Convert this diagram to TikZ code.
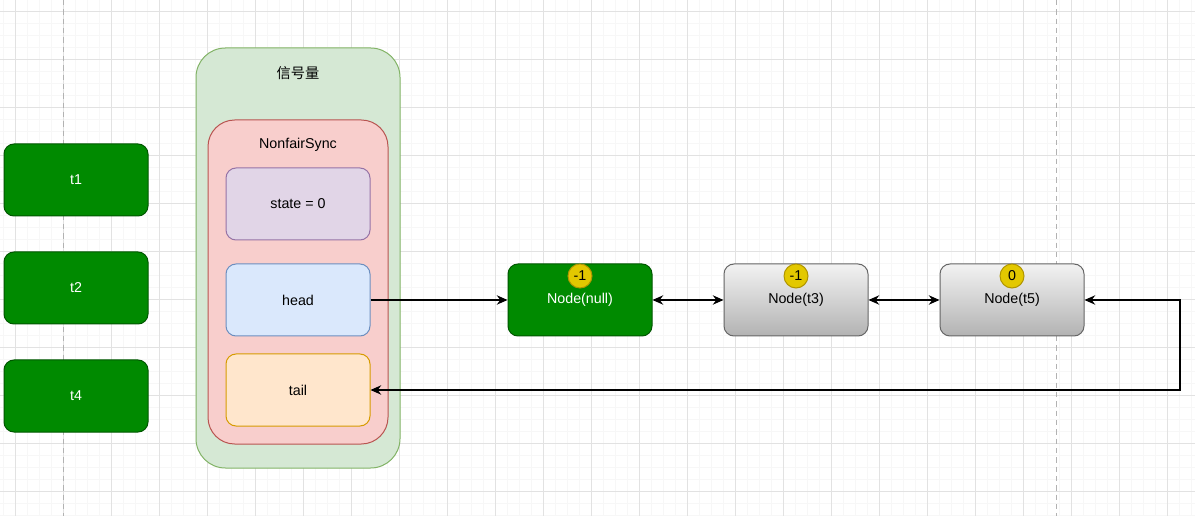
\documentclass[tikz,border=0pt]{standalone}
\usepackage{fontspec}
\setmainfont{Liberation Sans}
\newfontfamily\cjk{Noto Sans CJK SC}
\usetikzlibrary{arrows.meta}

\definecolor{gridmin}{HTML}{F7F7F7}
\definecolor{gridmaj}{HTML}{E2E2E2}
\definecolor{thgreen}{HTML}{008A00}
\definecolor{thgreend}{HTML}{005700}
\definecolor{semfill}{HTML}{D5E8D4}
\definecolor{semdraw}{HTML}{82B366}
\definecolor{syncfill}{HTML}{F8CECC}
\definecolor{syncdraw}{HTML}{B85450}
\definecolor{statefill}{HTML}{E1D5E7}
\definecolor{statedraw}{HTML}{9673A6}
\definecolor{headfill}{HTML}{DAE8FC}
\definecolor{headdraw}{HTML}{6C8EBF}
\definecolor{tailfill}{HTML}{FFE6CC}
\definecolor{taildraw}{HTML}{D79B00}
\definecolor{badgefill}{HTML}{E3C800}
\definecolor{badgedraw}{HTML}{B09500}

\begin{document}
\begin{tikzpicture}[
    x=0.75pt, y=-0.75pt,
    font=\fontsize{10.7}{12}\selectfont,
    box/.style={rectangle, rounded corners=7.5pt, line width=0.75pt,
                minimum width=108pt, minimum height=54pt, inner sep=0pt},
    thr/.style={box, fill=thgreen, draw=thgreend, text=white},
    qnode/.style={box, draw=black!60, top color=black!5, bottom color=black!30},
    badge/.style={circle, fill=badgefill, draw=badgedraw, line width=0.75pt,
                  minimum size=18pt, inner sep=0pt, anchor=north},
    link/.style={line width=1.1pt, -{Stealth[length=8pt, width=7pt]}},
    dlink/.style={line width=1.1pt, {Stealth[length=8pt, width=7pt]}-{Stealth[length=8pt, width=7pt]}},
  ]

  \useasboundingbox (0,0) rectangle (1195,516);
  \fill[white] (0,0) rectangle (1195,516);

  % ---- griglia di sfondo ----------------------------------------------------
  \foreach \gx in {0,...,99} \draw[gridmin, line width=0.6pt] (3.5+12*\gx,0) -- (3.5+12*\gx,516);
  \foreach \gy in {0,...,43} \draw[gridmin, line width=0.6pt] (0,-0.5+12*\gy) -- (1195,-0.5+12*\gy);
  \foreach \gx in {0,...,24} \draw[gridmaj, line width=0.6pt] (15.5+48*\gx,0) -- (15.5+48*\gx,516);
  \foreach \gy in {0,...,10} \draw[gridmaj, line width=0.6pt] (0,11.5+48*\gy) -- (1195,11.5+48*\gy);
  \draw[black!30, line width=0.6pt, dash pattern=on 4pt off 3pt] (63,0) -- (63,516);     % bordo pagina
  \draw[black!30, line width=0.6pt, dash pattern=on 4pt off 3pt] (1056.5,0) -- (1056.5,516);

  % ---- thread in attesa -----------------------------------------------------
  \node[thr] (t1) at (76,180) {t1};
  \node[thr] (t2) at (76,288) {t2};
  \node[thr] (t4) at (76,396) {t4};

  % ---- semaforo e sync ------------------------------------------------------
  \node[box, rounded corners=22pt, fill=semfill, draw=semdraw,
        minimum width=153pt, minimum height=315pt] (sem) at (298,258) {};
  \node (semtitle) at (298,73) {\cjk 信号量};
  \node[box, rounded corners=20pt, fill=syncfill, draw=syncdraw,
        minimum width=135pt, minimum height=243pt] (sync) at (298,282) {};
  \node (synctitle) at (298,145) {NonfairSync};

  \node[box, fill=statefill, draw=statedraw] (state) at (298,204) {state = 0};
  \node[box, fill=headfill,  draw=headdraw]  (head)  at (298,300) {head};
  \node[box, fill=tailfill,  draw=taildraw]  (tail)  at (298,390) {tail};

  % ---- coda dei nodi --------------------------------------------------------
  \node[thr]   (nnull) at (580,300) {Node(null)};
  \node[qnode] (nt3)   at (796,300) {Node(t3)};
  \node[qnode] (nt5)   at (1012,300) {Node(t5)};

  \node[badge] (bnull) at (nnull.north) {-1};
  \node[badge] (bt3)   at (nt3.north)   {-1};
  \node[badge] (bt5)   at (nt5.north)   {0};

  % ---- collegamenti ---------------------------------------------------------
  \coordinate (loop) at (1180,345);
  \draw[link]  (head.east) -- (nnull.west);
  \draw[dlink] (nnull.east) -- (nt3.west);
  \draw[dlink] (nt3.east) -- (nt5.west);
  \draw[dlink] (tail.east) -| (loop) |- (nt5.east);

\end{tikzpicture}
\end{document}
